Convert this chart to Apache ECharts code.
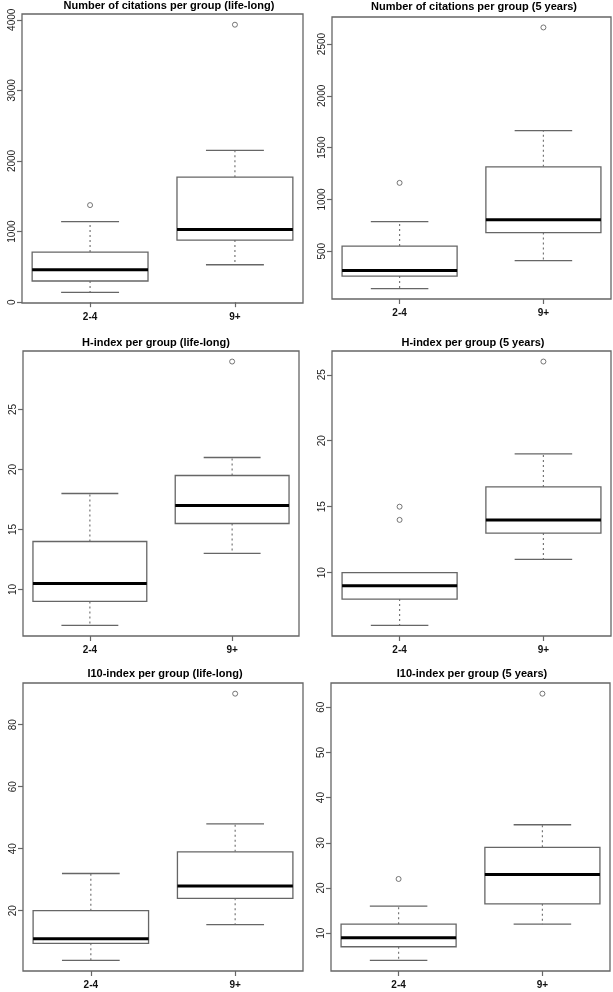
<!DOCTYPE html>
<html>
<head>
<meta charset="utf-8">
<script src="https://cdn.jsdelivr.net/npm/echarts@6/dist/echarts.min.js"></script>
<style>
  html, body { margin: 0; padding: 0; background: #fff; }
  #chart { width: 613px; height: 992px; }
</style>
</head>
<body>
<div id="chart"></div>
<script>
// groups on the x axis
const groups = ['2-4', '9+'];

const panelTitles = [
  'Number of citations per group (life-long)',
  'Number of citations per group (5 years)',
  'H-index per group (life-long)',
  'H-index per group (5 years)',
  'I10-index per group (life-long)',
  'I10-index per group (5 years)'
];

// box stats per group: [lower whisker, Q1, median, Q3, upper whisker]
const citesLife = [[140, 300, 460, 710, 1140], [530, 880, 1030, 1770, 2150]];
const citesFive = [[140, 260, 315, 550, 785], [410, 680, 805, 1315, 1665]];
const hLife = [[7, 9, 10.5, 14, 18], [13, 15.5, 17, 19.5, 21]];
const hFive = [[6, 8, 9, 10, 10], [11, 13, 14, 16.5, 19]];
const i10Life = [[4, 9.5, 11, 20, 32], [15.5, 24, 28, 39, 48]];
const i10Five = [[4, 7, 9, 12, 16], [12, 16.5, 23, 29, 34]];

// outliers per group
const citesLifeOut = [[1375], [3930]];
const citesFiveOut = [[1160], [2660]];
const hLifeOut = [[], [29]];
const hFiveOut = [[14, 15], [26]];
const i10LifeOut = [[], [90]];
const i10FiveOut = [[22], [63]];

// y tick labels
const citesLifeTicks = [0, 1000, 2000, 3000, 4000];
const citesFiveTicks = [500, 1000, 1500, 2000, 2500];
const hLifeTicks = [10, 15, 20, 25];
const hFiveTicks = [10, 15, 20, 25];
const i10LifeTicks = [20, 40, 60, 80];
const i10FiveTicks = [10, 20, 30, 40, 50, 60];

const panels = [
  { stats: citesLife, out: citesLifeOut, ticks: citesLifeTicks },
  { stats: citesFive, out: citesFiveOut, ticks: citesFiveTicks },
  { stats: hLife, out: hLifeOut, ticks: hLifeTicks },
  { stats: hFive, out: hFiveOut, ticks: hFiveTicks },
  { stats: i10Life, out: i10LifeOut, ticks: i10LifeTicks },
  { stats: i10Five, out: i10FiveOut, ticks: i10FiveTicks }
];

// plot boxes [left, top, width, height] and title centre [x, y]
const boxes = [
  [22, 14, 281, 289], [332, 17, 279, 282],
  [23, 351, 276, 285], [332, 351, 279, 285],
  [23, 683, 280, 288], [331, 683, 279, 288]
];
const titlePos = [[169, 7], [474, 8], [156, 344], [473, 344], [165, 675], [472, 675]];

const lineGray = '#666';

function renderBox(params, api) {
  const x = api.value(0);
  const lo = api.coord([x, api.value(1)]);
  const q1 = api.coord([x, api.value(2)]);
  const med = api.coord([x, api.value(3)]);
  const q3 = api.coord([x, api.value(4)]);
  const hi = api.coord([x, api.value(5)]);
  const bw = api.size([0.8, 0])[0];
  const cx = lo[0];
  const dash = { stroke: '#777', lineWidth: 1.2, lineDash: [2, 3] };
  const solid = { stroke: lineGray, lineWidth: 1.3 };
  return {
    type: 'group',
    children: [
      { type: 'line', shape: { x1: cx, y1: q1[1], x2: cx, y2: lo[1] }, style: dash },
      { type: 'line', shape: { x1: cx, y1: q3[1], x2: cx, y2: hi[1] }, style: dash },
      { type: 'line', shape: { x1: cx - bw / 4, y1: lo[1], x2: cx + bw / 4, y2: lo[1] }, style: solid },
      { type: 'line', shape: { x1: cx - bw / 4, y1: hi[1], x2: cx + bw / 4, y2: hi[1] }, style: solid },
      { type: 'rect', shape: { x: cx - bw / 2, y: q3[1], width: bw, height: q1[1] - q3[1] },
        style: { fill: '#fff', stroke: lineGray, lineWidth: 1.3 } },
      { type: 'line', shape: { x1: cx - bw / 2, y1: med[1], x2: cx + bw / 2, y2: med[1] },
        style: { stroke: '#000', lineWidth: 3 } }
    ]
  };
}

const option = {
  animation: false,
  backgroundColor: '#fff',
  title: [],
  grid: [],
  xAxis: [],
  yAxis: [],
  series: []
};

panels.forEach((p, i) => {
  const b = boxes[i];
  const all = [];
  p.stats.forEach(s => all.push(...s));
  p.out.forEach(o => all.push(...o));
  const lo = Math.min(...all);
  const hi = Math.max(...all);
  const pad = (hi - lo) * 0.04;

  option.title.push({
    text: panelTitles[i],
    left: titlePos[i][0],
    top: titlePos[i][1] - 7,
    textAlign: 'center',
    padding: 0,
    textStyle: { fontFamily: 'Liberation Sans', fontSize: 11, fontWeight: 'bold', color: '#000' }
  });
  option.grid.push({
    left: b[0], top: b[1], width: b[2], height: b[3],
    show: true, borderColor: lineGray, borderWidth: 1.3, backgroundColor: 'transparent'
  });
  option.xAxis.push({
    type: 'value', gridIndex: i, min: 0.53, max: 2.47,
    splitLine: { show: false },
    axisLine: { show: false },
    axisTick: { customValues: [1, 2], length: 5, lineStyle: { color: lineGray, width: 1.2 } },
    axisLabel: {
      customValues: [1, 2], margin: 9,
      formatter: v => groups[Math.round(v) - 1],
      fontFamily: 'Liberation Sans', fontSize: 10, fontWeight: 'bold', color: '#111'
    }
  });
  option.yAxis.push({
    type: 'value', gridIndex: i, min: lo - pad, max: hi + pad,
    splitLine: { show: false },
    axisLine: { show: false },
    axisTick: { customValues: p.ticks, length: 5, lineStyle: { color: lineGray, width: 1.2 } },
    axisLabel: {
      customValues: p.ticks, rotate: 90, margin: 5,
      formatter: v => String(v),
      fontFamily: 'Liberation Sans', fontSize: 10, color: '#222'
    }
  });
  option.series.push({
    type: 'custom', xAxisIndex: i, yAxisIndex: i,
    renderItem: renderBox,
    encode: { x: 0, y: [1, 2, 3, 4, 5] },
    data: p.stats.map((s, g) => [g + 1, ...s])
  });
  const outPts = [];
  p.out.forEach((o, g) => o.forEach(v => outPts.push([g + 1, v])));
  option.series.push({
    type: 'scatter', xAxisIndex: i, yAxisIndex: i,
    symbol: 'circle', symbolSize: 5,
    itemStyle: { color: '#fff', borderColor: '#555', borderWidth: 1 },
    data: outPts
  });
});

const chart = echarts.init(document.getElementById('chart'));
chart.setOption(option);
</script>
</body>
</html>
